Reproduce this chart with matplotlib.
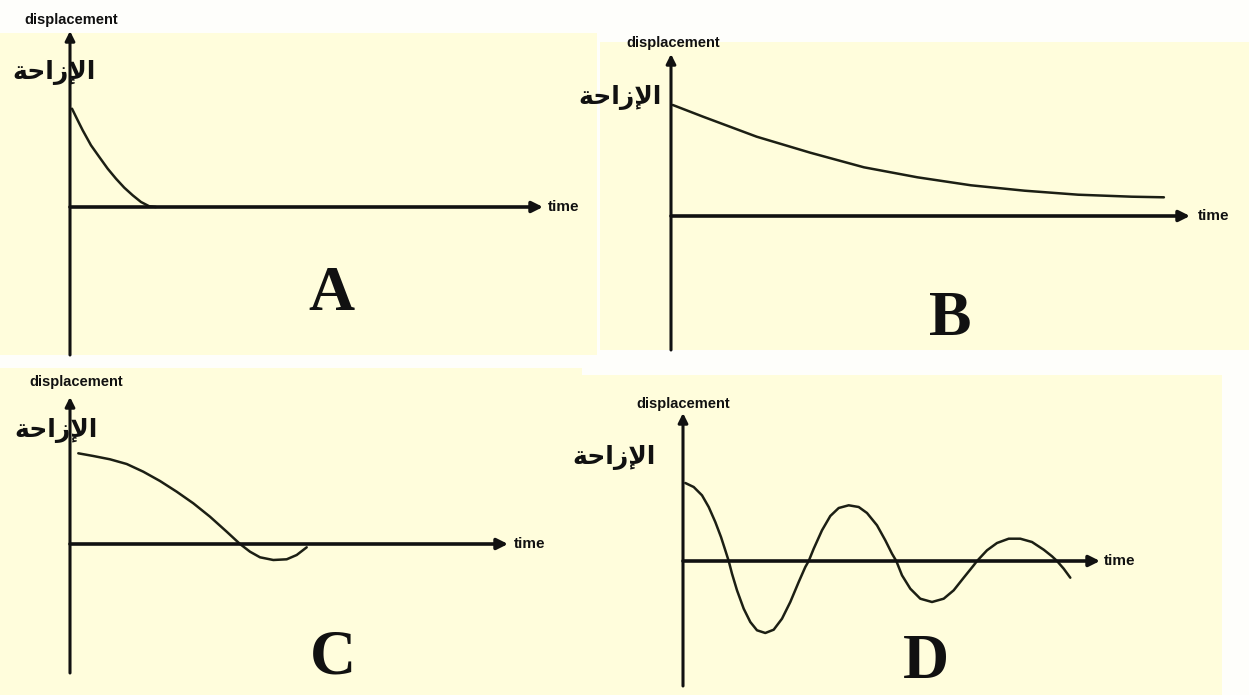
import matplotlib
matplotlib.use("Agg")
import matplotlib.pyplot as plt

# --- data (time, displacement; arbitrary units) ---
t_A = [0.2, 0.77, 1.27, 2.1, 2.93, 3.77, 4.6, 5.43, 6.27, 7.1, 7.93, 8.6]
x_A = [9.83, 8.67, 7.67, 6.17, 5.0, 3.83, 2.83, 1.93, 1.17, 0.5, 0.07, 0.0]

t_B = [0.18, 3.21, 5.89, 8.57, 13.93, 19.29, 24.64, 30.0, 35.36, 40.71, 46.07, 49.29]
x_B = [11.1, 9.93, 8.93, 7.93, 6.33, 4.87, 3.87, 3.07, 2.53, 2.13, 1.93, 1.87]

t_C = [0.83, 2.33, 4.0, 5.67, 7.33, 9.0, 10.67, 12.33, 14.0, 15.67, 17.0,
       18.0, 19.0, 20.33, 21.67, 22.67, 23.67]
x_C = [9.07, 8.8, 8.47, 8.0, 7.23, 6.3, 5.23, 4.07, 2.73, 1.23, 0.0,
       -0.77, -1.33, -1.6, -1.53, -1.1, -0.33]

t_D = [0.23, 1.07, 1.9, 2.57, 3.23, 3.8, 4.23, 4.57, 4.9, 5.4, 6.07, 6.73,
       7.4, 8.23, 9.07, 9.9, 10.73, 11.57, 12.23, 12.57, 13.07, 13.9, 14.73,
       15.57, 16.57, 17.57, 18.4, 19.4, 20.23, 20.9, 21.33, 21.9, 22.73,
       23.73, 24.9, 26.07, 27.07, 28.07, 29.07, 29.4, 30.4, 31.4, 32.57,
       33.73, 34.9, 36.07, 36.9, 37.4, 38.07, 38.73]
x_D = [7.8, 7.4, 6.57, 5.4, 3.9, 2.4, 1.07, 0.0, -1.27, -2.93, -4.77, -6.1,
       -6.93, -7.2, -6.87, -5.77, -4.1, -2.1, -0.6, 0.0, 1.23, 3.07, 4.5,
       5.3, 5.57, 5.4, 4.8, 3.57, 2.07, 0.73, 0.0, -1.43, -2.77,
       -3.77, -4.1, -3.77, -2.93, -1.67, -0.43, 0.0, 1.07, 1.8, 2.23,
       2.23, 1.9, 1.13, 0.47, 0.0, -0.77, -1.67]

series = {"A": (t_A, x_A), "B": (t_B, x_B), "C": (t_C, x_C), "D": (t_D, x_D)}

arabic = "\uFE94\uFEA3\uFE8D\uFEAF\uFEF9\uFE8D"  # الإزاحة, pre-shaped

# panel layout in pixels: box (l, t, r, b), origin, arrow tips, label spots
panels = {
    "A": dict(box=(0, 33, 597, 355), org=(70, 207), xtip=543, ytop=31, ybot=355,
              disp=(71, 20), ar=(54, 72), tm=548, big=(331, 295)),
    "B": dict(box=(600, 42, 1249, 350), org=(671, 216), xtip=1190, ytop=54, ybot=350,
              disp=(673, 43), ar=(620, 98), tm=1198, big=(950, 320)),
    "C": dict(box=(0, 368, 582, 695), org=(70, 544), xtip=508, ytop=397, ybot=673,
              disp=(76, 382), ar=(56, 430), tm=514, big=(333, 658)),
    "D": dict(box=(578, 375, 1222, 695), org=(683, 561), xtip=1100, ytop=413, ybot=686,
              disp=(683, 404), ar=(614, 457), tm=1104, big=(926, 663)),
}

W, H = 1249, 695
fig = plt.figure(figsize=(W / 100, H / 100), dpi=100, facecolor="#fefefb")

S = 10.0  # pixels per data unit
ink = "#111111"

for name in ["A", "B", "C", "D"]:
    p = panels[name]
    l, t, r, b = p["box"]
    ox, oy = p["org"]
    ax = fig.add_axes([l / W, 1 - b / H, (r - l) / W, (b - t) / H])
    ax.set_facecolor("#fffddc")
    ax.set_xlim((l - ox) / S, (r - ox) / S)
    ax.set_ylim((oy - b) / S, (oy - t) / S)
    ax.set_xticks([])
    ax.set_yticks([])
    for sp in ax.spines.values():
        sp.set_visible(False)

    def d(px, py):
        return ((px - ox) / S, (oy - py) / S)

    # axes with arrows
    ax.annotate("", xy=d(p["xtip"], oy), xytext=d(ox, oy),
                arrowprops=dict(arrowstyle="-|>", lw=2.6, color=ink,
                                mutation_scale=16, shrinkA=0, shrinkB=0),
                annotation_clip=False)
    ax.annotate("", xy=d(ox, p["ytop"]), xytext=d(ox, p["ybot"]),
                arrowprops=dict(arrowstyle="-|>", lw=2.2, color=ink,
                                mutation_scale=14, shrinkA=0, shrinkB=0),
                annotation_clip=False)

    tt, xx = series[name]
    ax.plot(tt, xx, color="#1c1f14", lw=1.8, solid_capstyle="round",
            solid_joinstyle="round", clip_on=False)

    ax.text(*d(*p["disp"]), "displacement", ha="center", va="center",
            fontsize=10.5, fontweight="bold", family="Liberation Sans", color=ink)
    ax.text(*d(*p["ar"]), arabic, ha="center", va="center",
            fontsize=18, fontweight="bold", family="DejaVu Sans", color=ink)
    ax.text(*d(p["tm"], oy), "time", ha="left", va="center",
            fontsize=11, fontweight="bold", family="Liberation Sans", color=ink)
    ax.text(*d(*p["big"]), name, ha="center", va="center",
            fontsize=46, fontweight="bold", family="Liberation Serif", color=ink)

fig.savefig("out.png", dpi=100, facecolor=fig.get_facecolor())
